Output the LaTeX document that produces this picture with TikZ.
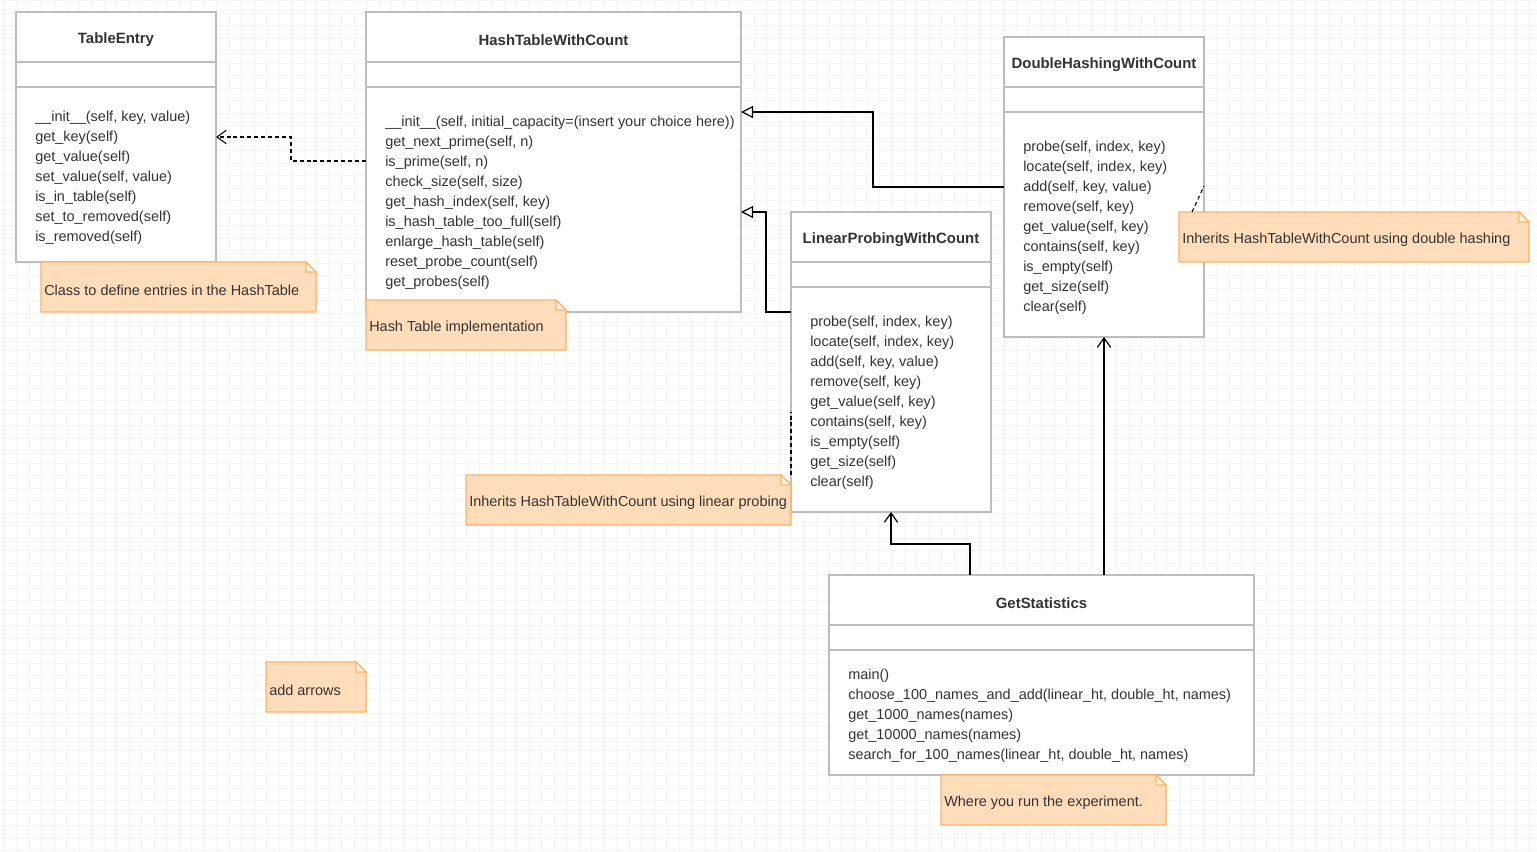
\documentclass[tikz,border=0pt]{standalone}
\usepackage{fontspec}
\setmainfont{Liberation Sans}
\usetikzlibrary{calc,arrows.meta}

\definecolor{ink}{HTML}{333333}
\definecolor{gridgray}{HTML}{F5F5F5}
\definecolor{framegray}{HTML}{BDBDBD}
\definecolor{notefill}{HTML}{FFDDBA}
\definecolor{noteline}{HTML}{FFB366}
\definecolor{foldfill}{HTML}{FFF3E6}

\tikzset{
  gridline/.style={draw=gridgray, line width=0.75pt},
  classframe/.style={draw=framegray, fill=white, line width=0.9pt, inner sep=0pt, outer sep=0pt},
  divider/.style={draw=framegray, line width=0.9pt},
  classtitle/.style={font=\fontsize{11.2pt}{13pt}\selectfont\bfseries, text=ink, inner sep=0pt},
  classops/.style={font=\fontsize{10.85pt}{15pt}\selectfont, text=ink, align=left, inner sep=0pt},
  notearea/.style={inner sep=0pt, outer sep=0pt},
  notebody/.style={fill=notefill, draw=noteline, line width=0.9pt},
  notefold/.style={fill=foldfill, draw=noteline, line width=0.9pt},
  notetext/.style={font=\fontsize{10.85pt}{15pt}\selectfont, text=ink, inner sep=0pt},
  inherit/.style={draw=black, line width=0.9pt, -{Triangle[open, length=9pt, width=9pt]}},
  uses/.style={draw=black, line width=0.9pt, -{Straight Barb[length=7pt, width=10pt]}},
  depend/.style={draw=black, line width=0.8pt, dash pattern=on 3pt off 2.2pt, -{Straight Barb[length=7pt, width=10pt, line width=0.8pt]}},
  notelink/.style={draw=black, line width=0.8pt, dash pattern=on 3pt off 2.2pt},
  hiddenlink/.style={draw=black!22, line width=0.8pt, dash pattern=on 2.2pt off 2.2pt},
}

% class box: name, x, y, width, height, title, operations
\newcommand\umlclass[7]{%
  \node[classframe, minimum width=#4*0.75pt, minimum height=#5*0.75pt, anchor=north west] (#1) at (#2,#3) {};
  \draw[divider] ($(#1.north west)+(0,50)$) -- ($(#1.north east)+(0,50)$);
  \draw[divider] ($(#1.north west)+(0,75)$) -- ($(#1.north east)+(0,75)$);
  \node[classtitle] (#1-name) at ($(#1.north)+(0,28)$) {#6};
  \node[classops, anchor=west] (#1-ops) at ($(#1.west)+(19,41)$) {#7};
}

% note with folded corner: name, x, y, width, height, text
\newcommand\umlnote[6]{%
  \node[notearea, minimum width=#4*0.75pt, minimum height=#5*0.75pt, anchor=north west] (#1) at (#2,#3) {};
  \filldraw[notebody] (#1.north west) -- ($(#1.north east)+(-10,0)$) -- ($(#1.north east)+(0,10)$)
     -- (#1.south east) -- (#1.south west) -- cycle;
  \filldraw[notefold] ($(#1.north east)+(-10,0)$) -- ($(#1.north east)+(-10,10)$) -- ($(#1.north east)+(0,10)$) -- cycle;
  \node[notetext, anchor=west] (#1-text) at ($(#1.west)+(3,3)$) {#6};
}

\begin{document}
\begin{tikzpicture}[x=0.75pt, y=-0.75pt]
  \useasboundingbox (0,0) rectangle (1537,851);
  \fill[white] (0,0) rectangle (1537,851);

  % background grid
  \foreach \gx in {4,16.5,...,1537} \draw[gridline] (\gx,0) -- (\gx,851);
  \foreach \gy in {0.5,13,...,851} \draw[gridline] (0,\gy) -- (1537,\gy);

  % hidden note connectors (mostly covered)
  \draw[hiddenlink] (117,261) -- (181,261);
  \draw[hiddenlink] (1041,774) -- (1053,774);

  % classes
  \umlclass{te}{16}{12}{200}{250}{TableEntry}{%
    \_\_init\_\_(self, key, value)\\
    get\_key(self)\\
    get\_value(self)\\
    set\_value(self, value)\\
    is\_in\_table(self)\\
    set\_to\_removed(self)\\
    is\_removed(self)}

  \umlclass{ht}{366}{12}{375}{300}{HashTableWithCount}{%
    \_\_init\_\_(self, initial\_capacity=(insert your choice here))\\
    get\_next\_prime(self, n)\\
    is\_prime(self, n)\\
    check\_size(self, size)\\
    get\_hash\_index(self, key)\\
    is\_hash\_table\_too\_full(self)\\
    enlarge\_hash\_table(self)\\
    reset\_probe\_count(self)\\
    get\_probes(self)}

  \umlclass{dh}{1004}{37}{200}{300}{DoubleHashingWithCount}{%
    probe(self, index, key)\\
    locate(self, index, key)\\
    add(self, key, value)\\
    remove(self, key)\\
    get\_value(self, key)\\
    contains(self, key)\\
    is\_empty(self)\\
    get\_size(self)\\
    clear(self)}

  \umlclass{lp}{791}{212}{200}{300}{LinearProbingWithCount}{%
    probe(self, index, key)\\
    locate(self, index, key)\\
    add(self, key, value)\\
    remove(self, key)\\
    get\_value(self, key)\\
    contains(self, key)\\
    is\_empty(self)\\
    get\_size(self)\\
    clear(self)}

  \umlclass{gs}{829}{575}{425}{200}{GetStatistics}{%
    main()\\
    choose\_100\_names\_and\_add(linear\_ht, double\_ht, names)\\
    get\_1000\_names(names)\\
    get\_10000\_names(names)\\
    search\_for\_100\_names(linear\_ht, double\_ht, names)}

  % notes
  \umlnote{tenote}{41}{262}{275}{50}{Class to define entries in the HashTable}
  \umlnote{htnote}{366}{300}{200}{50}{Hash Table implementation}
  \umlnote{dhnote}{1179}{212}{350}{50}{Inherits HashTableWithCount using double hashing}
  \umlnote{lpnote}{466}{475}{325}{50}{Inherits HashTableWithCount using linear probing}
  \umlnote{gsnote}{941}{775}{225}{50}{Where you run the experiment.}
  \umlnote{todo}{266}{662}{100}{50}{add arrows}

  % note links
  \draw[notelink] ($(dhnote.north west)+(13,0)$) -- ($(dh.north east)+(0,149)$);
  \draw[notelink] (lpnote.north east) -- ($(lp.north west)+(0,200)$);

  % relations
  \draw[depend] ($(ht.north west)+(0,149)$) -- ++(-75,0) |- ($(te.north east)+(0,125)$);
  \draw[inherit] (dh.west) -- ++(-131,0) |- ($(ht.north east)+(0,100)$);
  \draw[inherit] ($(lp.north west)+(0,100)$) -- ++(-25,0) |- ($(ht.north east)+(0,200)$);
  \draw[uses] ($(gs.north west)+(141,0)$) -- ++(0,-31) -| (lp.south);
  \draw[uses] (dh.south |- gs.north) -- (dh.south);
\end{tikzpicture}
\end{document}
